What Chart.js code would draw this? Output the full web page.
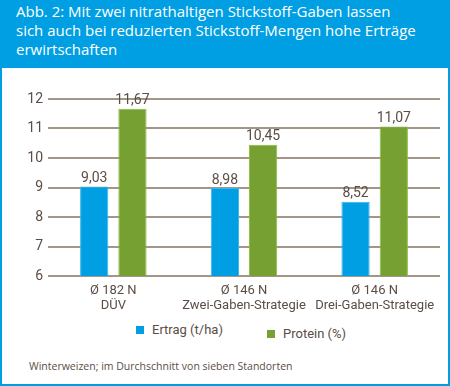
<!DOCTYPE html>
<html>
<head>
<meta charset="utf-8">
<script src="https://cdn.jsdelivr.net/npm/chart.js@4"></script>
<style>
  body { margin: 0; background: #fff; }
  #frame {
    position: relative; width: 450px; height: 386px; box-sizing: border-box;
    border: 2px solid #009fe3; border-top: none; background: #fff;
    font-family: "Open Sans", sans-serif; overflow: hidden;
  }
  #head {
    margin: 0 -2px; height: 68px; background: #009fe3; color: #fff;
    font-size: 15px; line-height: 19px; padding: 2px 0 0 16px; box-sizing: border-box;
  }
  #wrap { position: absolute; left: 0; top: 68px; width: 446px; height: 252px; }
  #legend { position: absolute; left: 0; top: 320px; width: 446px; height: 30px; }
  .item { position: absolute; font-family: Roboto, sans-serif; font-size: 13px; color: #5b4d45; white-space: nowrap; }
  .box { display: inline-block; width: 8px; height: 8px; margin-right: 8px; vertical-align: 0px; }
  #note { position: absolute; left: 27px; top: 359px; font-size: 10.5px; color: #5b4d45; }
</style>
</head>
<body>
<div id="frame">
  <div id="head">Abb. 2: Mit zwei nitrathaltigen Stickstoff-Gaben lassen<br>sich auch bei reduzierten Stickstoff-Mengen hohe Erträge<br>erwirtschaften</div>
  <div id="wrap"><canvas id="chart"></canvas></div>
  <div id="legend"></div>
  <div id="note">Winterweizen; im Durchschnitt von sieben Standorten</div>
</div>
<script>
const categories = [['Ø 182 N', 'DÜV'], ['Ø 146 N', 'Zwei-Gaben-Strategie'], ['Ø 146 N', 'Drei-Gaben-Strategie']];
const ertrag = [9.03, 8.98, 8.52];
const protein = [11.67, 10.45, 11.07];
const seriesNames = ['Ertrag (t/ha)', 'Protein (%)'];
const yMin = 6;
const yMax = 12;

const textColor = '#5b4d45';
const gridColor = '#a39689';
const labelFont = 'Roboto, sans-serif';

// value labels above the bars, German decimal comma
const valueLabels = {
    id: 'valueLabels',
    afterDatasetsDraw(chart) {
        const ctx = chart.ctx;
        ctx.save();
        ctx.font = '14px ' + labelFont;
        ctx.fillStyle = textColor;
        ctx.textAlign = 'center';
        ctx.textBaseline = 'bottom';
        chart.data.datasets.forEach((ds, i) => {
            chart.getDatasetMeta(i).data.forEach((bar, j) => {
                ctx.fillText(ds.data[j].toFixed(2).replace('.', ','), bar.x, bar.y - 1);
            });
        });
        ctx.restore();
    }
};

const chart = new Chart(document.getElementById('chart'), {
    type: 'bar',
    data: {
        labels: categories,
        datasets: [{
            label: seriesNames[0],
            data: ertrag,
            backgroundColor: '#009fe3',
            borderColor: '#3db3ea',
            borderWidth: 1
        }, {
            label: seriesNames[1],
            data: protein,
            backgroundColor: '#76a031',
            borderColor: '#8cbd3e',
            borderWidth: 1
        }]
    },
    options: {
        responsive: true,
        maintainAspectRatio: false,
        animation: false,
        categoryPercentage: 0.585,
        barPercentage: 0.74,
        layout: { padding: { top: 31, right: 8, left: 0, bottom: 0 } },
        plugins: {
            legend: { display: false },
            tooltip: { enabled: false }
        },
        scales: {
            x: {
                grid: { display: false, drawTicks: false },
                border: { display: false },
                ticks: {
                    color: textColor,
                    font: { family: labelFont, size: 13, lineHeight: 1.15 },
                    padding: 7,
                    autoSkip: false,
                    maxRotation: 0
                },
                afterFit: (scale) => { scale.height = 44; }
            },
            y: {
                min: yMin,
                max: yMax,
                grid: { color: gridColor, lineWidth: 2, drawTicks: false },
                border: { display: false },
                ticks: {
                    stepSize: 1,
                    color: textColor,
                    font: { family: labelFont, size: 14 },
                    padding: 5
                },
                afterFit: (scale) => { scale.width = 46; }
            }
        }
    },
    plugins: [valueLabels]
});

// legend built from the datasets
const legendPos = [{ left: 134, top: 2 }, { left: 265, top: 6 }];
const legend = document.getElementById('legend');
chart.data.datasets.forEach((ds, i) => {
    const el = document.createElement('div');
    el.className = 'item';
    el.style.left = legendPos[i].left + 'px';
    el.style.top = legendPos[i].top + 'px';
    el.innerHTML = '<span class="box" style="background:' + ds.backgroundColor + '"></span>' + ds.label;
    legend.appendChild(el);
});
</script>
</body>
</html>
